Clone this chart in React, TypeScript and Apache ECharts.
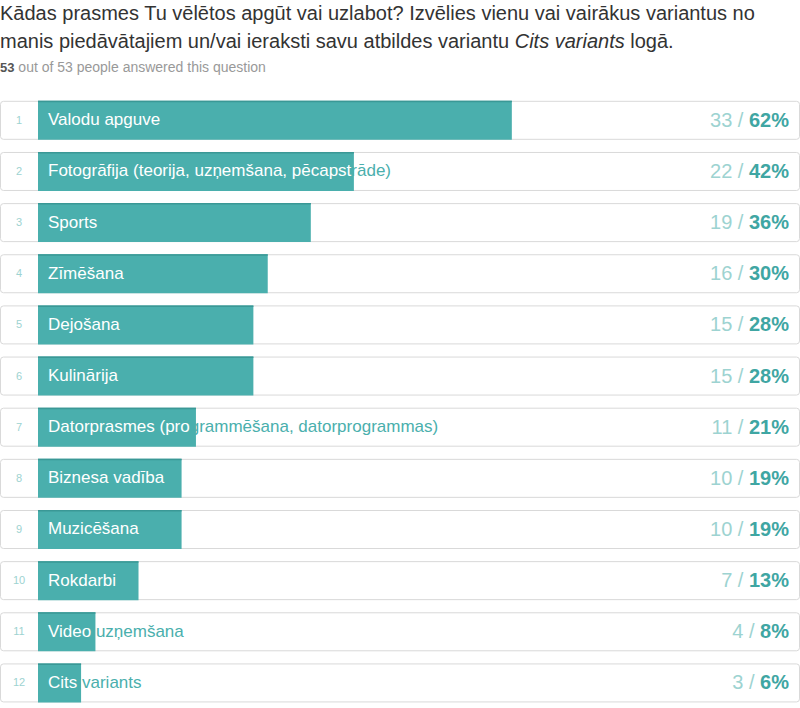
import { useEffect, useRef } from "react";
import * as echarts from "echarts";

const total = 53;
const answered = 53;
const categories = [
  "Valodu apguve",
  "Fotogrāfija (teorija, uzņemšana, pēcapstrāde)",
  "Sports",
  "Zīmēšana",
  "Dejošana",
  "Kulinārija",
  "Datorprasmes (programmēšana, datorprogrammas)",
  "Biznesa vadība",
  "Muzicēšana",
  "Rokdarbi",
  "Video uzņemšana",
  "Cits variants",
];
const counts = [33, 22, 19, 16, 15, 15, 11, 10, 10, 7, 4, 3];
const percents = [62, 42, 36, 30, 28, 28, 21, 19, 19, 13, 8, 6];

const FONT = "Liberation Sans, Arial, Helvetica, sans-serif";
const TEAL = "#4aafad";

let measureCtx: CanvasRenderingContext2D | null = null;
function textWidth(s: string, font: string) {
  if (!measureCtx) measureCtx = document.createElement("canvas").getContext("2d");
  measureCtx!.font = font;
  return measureCtx!.measureText(s).width;
}

export default function App() {
  const chartRef = useRef<HTMLDivElement | null>(null);

  useEffect(() => {
    if (!chartRef.current) return;
    const chart = echarts.init(chartRef.current, null, { renderer: "svg" });

    chart.setOption({
      animation: false,
      graphic: [
        {
          type: "text",
          left: 0,
          top: -1,
          style: {
            text: "Kādas prasmes Tu vēlētos apgūt vai uzlabot? Izvēlies vienu vai vairākus variantus no\nmanis piedāvātajiem un/vai ieraksti savu atbildes variantu {i|Cits variants} logā.",
            font: `20px ${FONT}`,
            fill: "#333",
            lineHeight: 28,
            rich: { i: { fontStyle: "italic", fontSize: 20, fontFamily: FONT, fill: "#333" } },
          },
        },
        {
          type: "text",
          left: 0,
          top: 60,
          style: {
            text: `{b|${answered}} out of ${total} people answered this question`,
            font: `14px ${FONT}`,
            fill: "#999",
            rich: { b: { fontWeight: "bold", fontSize: 13, fontFamily: FONT, fill: "#555" } },
          },
        },
      ],
      grid: { left: 38, width: 761, top: 94.25, height: 618 },
      xAxis: { type: "value", min: 0, max: 100, show: false },
      yAxis: { type: "category", data: categories, inverse: true, show: false },
      series: [
        {
          type: "custom",
          clip: false,
          data: categories.map((_, i) => [(counts[i] / total) * 100, i]),
          renderItem: (params: any, api: any) => {
            const i = params.dataIndex;
            const start = api.coord([0, i]);
            const end = api.coord([api.value(0), i]);
            const h = 38;
            const top = start[1] - h / 2;
            const labelFont = `17px ${FONT}`;
            const label = categories[i];
            const barW = end[0] - start[0];
            const labelX = start[0] + 10;
            let cut = label.length;
            while (cut > 0 && labelX + textWidth(label.slice(0, cut), labelFont) > end[0]) cut--;
            const inside = label.slice(0, cut);
            const outside = label.slice(cut);
            const insideW = textWidth(inside, labelFont);
            return {
              type: "group",
              children: [
                {
                  type: "rect",
                  shape: { x: 0.5, y: top + 0.5, width: 799, height: h, r: 3 },
                  style: { fill: "#fff", stroke: "#d9d9d9", lineWidth: 1 },
                },
                {
                  type: "rect",
                  shape: { x: start[0], y: top, width: barW, height: h + 1 },
                  style: { fill: TEAL },
                },
                {
                  type: "rect",
                  shape: { x: start[0], y: top, width: barW, height: 1.5 },
                  style: { fill: "#3a9896" },
                },
                {
                  type: "text",
                  style: {
                    x: 19,
                    y: start[1],
                    text: String(i + 1),
                    font: `11px ${FONT}`,
                    fill: "#9dd3d1",
                    align: "center",
                    verticalAlign: "middle",
                  },
                },
                {
                  type: "text",
                  style: {
                    x: labelX,
                    y: start[1],
                    text: inside,
                    font: labelFont,
                    fill: "#fff",
                    verticalAlign: "middle",
                  },
                },
                {
                  type: "text",
                  style: {
                    x: labelX + insideW,
                    y: start[1],
                    text: outside,
                    font: labelFont,
                    fill: TEAL,
                    verticalAlign: "middle",
                  },
                },
                {
                  type: "text",
                  style: {
                    x: 789,
                    y: start[1],
                    text: `{c|${counts[i]} / }{p|${percents[i]}%}`,
                    align: "right",
                    verticalAlign: "middle",
                    rich: {
                      c: { fontSize: 20, fontFamily: FONT, fill: "#9dd3d1" },
                      p: { fontSize: 20, fontFamily: FONT, fontWeight: "bold", fill: "#3fa6a3" },
                    },
                  },
                },
              ],
            };
          },
        },
      ],
    });

    return () => chart.dispose();
  }, []);

  return (
    <div style={{ position: "fixed", inset: 0, background: "#fff" }}>
      <div ref={chartRef} style={{ width: 800, height: 708 }} />
    </div>
  );
}
